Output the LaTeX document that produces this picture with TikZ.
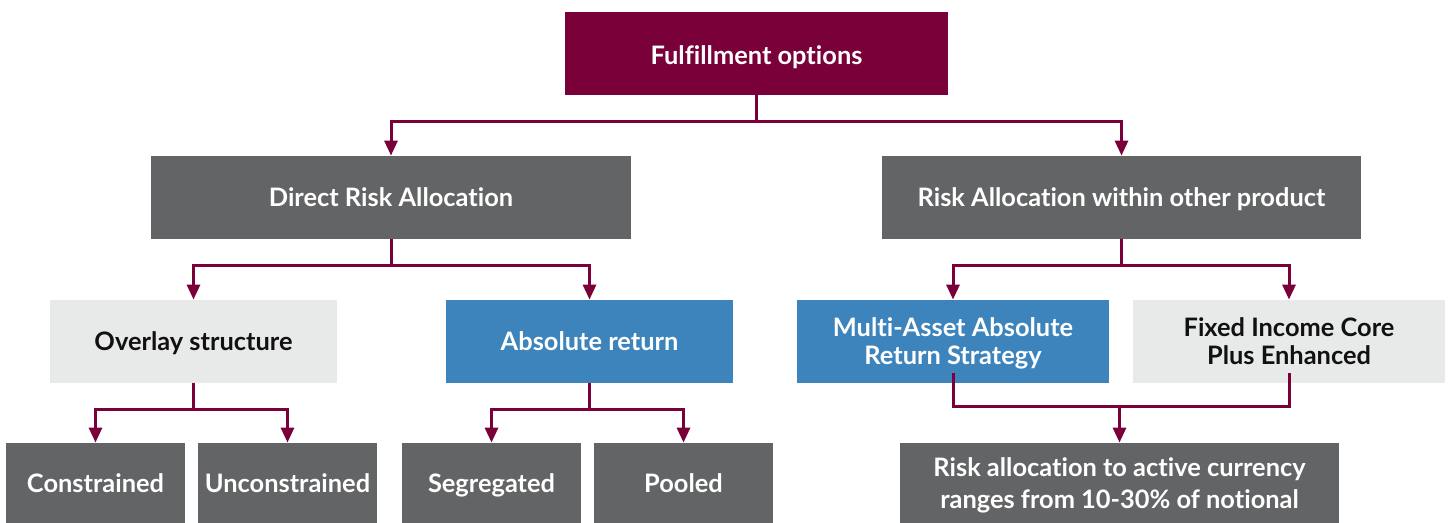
\documentclass[tikz,border=0pt]{standalone}
\usepackage{fontspec}
\setmainfont{Lato}[Ligatures={NoCommon}]
\usetikzlibrary{arrows.meta}
\definecolor{maroon}{RGB}{122,0,58}
\definecolor{dgray}{RGB}{99,100,102}
\definecolor{lgray}{RGB}{232,233,233}
\definecolor{sblue}{RGB}{60,132,187}
\definecolor{ink}{RGB}{17,17,17}
\tikzset{
  box/.style={inner sep=0pt, align=center, text height=9.1pt, text depth=0pt,
    font=\fontsize{12.7}{14}\selectfont\bfseries},
  twoline/.style={text height=23.1pt},
  twowide/.style={text height=25.1pt, font=\fontsize{12.7}{16}\selectfont\bfseries},
  top/.style={box, fill=maroon, text=white, text height=11.1pt},
  dark/.style={box, fill=dgray, text=white},
  light/.style={box, fill=lgray, text=ink},
  blue/.style={box, fill=sblue, text=white},
  conn/.style={draw=maroon, line width=1.5pt, -{Triangle[width=6.5pt,length=7.5pt]}},
  plain/.style={draw=maroon, line width=1.5pt},
}
\begin{document}
\begin{tikzpicture}[x=0.5pt,y=-0.5pt]
\useasboundingbox (0,0) rectangle (1449,523);
% level 0
\node[top, minimum width=191.5pt, minimum height=41.5pt] (ful) at (756.5,53.5) {Fulfillment options};
% level 1
\node[dark, minimum width=240pt, minimum height=41.5pt] (dra) at (391,197.5) {Direct Risk Allocation};
\node[dark, minimum width=239.5pt, minimum height=41.5pt] (rwo) at (1121.5,197.5) {Risk Allocation within other product};
% level 2
\node[light, minimum width=143.5pt, minimum height=41.5pt] (ovl) at (193.5,341.5) {Overlay structure};
\node[blue, minimum width=143.5pt, minimum height=41.5pt] (abs) at (589.5,341.5) {Absolute return};
\node[blue, twoline, minimum width=156pt, minimum height=41.5pt] (mar) at (953,341.5) {Multi-Asset Absolute\\Return Strategy};
\node[light, twoline, minimum width=156pt, minimum height=41.5pt] (fic) at (1289,341.5) {Fixed Income Core\\Plus Enhanced};
% level 3
\node[dark, minimum width=89.5pt, minimum height=40pt] (con) at (95.5,483) {Constrained};
\node[dark, minimum width=89.5pt, minimum height=40pt] (unc) at (287.5,483) {Unconstrained};
\node[dark, minimum width=89.5pt, minimum height=40pt] (seg) at (491.5,483) {Segregated};
\node[dark, minimum width=89.5pt, minimum height=40pt] (poo) at (683.5,483) {Pooled};
\node[dark, twowide, minimum width=219.5pt, minimum height=40pt] (ral) at (1119.5,483) {Risk allocation to active currency\\ranges from 10-30\% of notional};
% connectors
\draw[conn] (ful.south) -- ++(0,26) -| (dra.north);
\draw[conn] (ful.south) -- ++(0,26) -| (rwo.north);
\draw[conn] (dra.south) -- ++(0,26) -| (ovl.north);
\draw[conn] (dra.south) -- ++(0,26) -| (abs.north);
\draw[conn] (rwo.south) -- ++(0,26) -| (mar.north);
\draw[conn] (rwo.south) -- ++(0,26) -| (fic.north);
\draw[conn] (ovl.south) -- ++(0,26) -| (con.north);
\draw[conn] (ovl.south) -- ++(0,26) -| (unc.north);
\draw[conn] (abs.south) -- ++(0,26) -| (seg.north);
\draw[conn] (abs.south) -- ++(0,26) -| (poo.north);
\path (ral.north) ++(0,-36) coordinate (mrg);
\draw[plain] ([yshift=5pt]mar.south) |- (mrg) -| ([yshift=5pt]fic.south);
\draw[conn] (mrg) -- (ral.north);
\end{tikzpicture}
\end{document}
